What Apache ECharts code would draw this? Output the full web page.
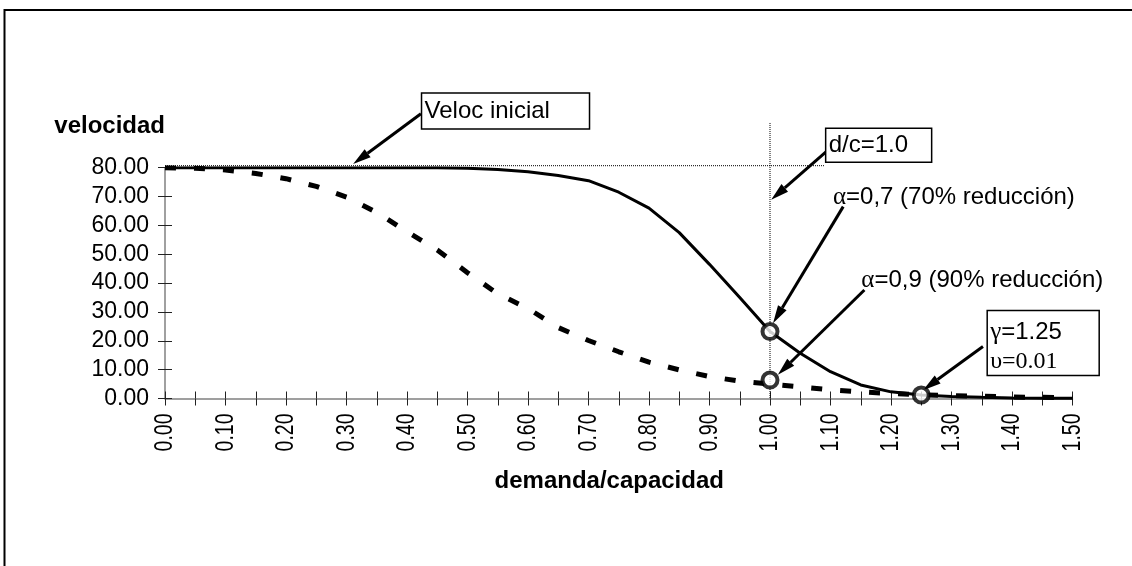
<!DOCTYPE html>
<html>
<head>
<meta charset="utf-8">
<script src="https://cdn.jsdelivr.net/npm/echarts@6/dist/echarts.min.js"></script>
<style>
  html, body { margin: 0; padding: 0; background: #fff; }
  #chart { width: 1132px; height: 566px; }
</style>
</head>
<body>
<div id="chart"></div>
<script>
// demand / capacity ratio (x) and speed for the two reduction factors
const ratio = [0.00,0.05,0.10,0.15,0.20,0.25,0.30,0.35,0.40,0.45,0.50,0.55,0.60,0.65,0.70,0.75,
               0.80,0.85,0.90,0.95,1.00,1.05,1.10,1.15,1.20,1.25,1.30,1.35,1.40,1.45,1.50];
const speedAlpha07 = [80,80,80,80,80,80,80,80,80,80,79.8,79.4,78.6,77.3,75.5,71.5,
                      66.0,57.5,46.5,35.0,23.2,15.7,9.3,4.7,2.3,1.2,0.7,0.4,0.2,0.1,0.05];
const speedAlpha09 = [80,79.8,79.2,78.0,76.2,73.5,69.8,64.5,57.8,51.5,43.6,36.3,31.2,24.6,20.1,16.2,
                      12.6,9.9,7.6,6.0,5.0,4.0,3.0,2.3,1.7,1.3,1.0,0.8,0.5,0.4,0.3];

// tick labels of the ratio axis
const xTickLabels = ['0.00','0.10','0.20','0.30','0.40','0.50','0.60','0.70',
                     '0.80','0.90','1.00','1.10','1.20','1.30','1.40','1.50'];

// highlighted points: d/c = 1 on both curves, and gamma = 1.25
const keyPoints = [[1.00, 23.2], [1.00, 6.4], [1.25, 1.2]];

// reference guides: initial speed and d/c = 1
const initialSpeedGuide = [[0, 80.7], [1.09, 80.7]];
const capacityGuide = [[1.00, 95.5], [1.00, 0]];

// annotation arrows: [from, to] in axis units
const arrowSegments = [
  [[0.423, 98.7], [0.311, 81.3]],
  [[1.093, 85.6], [1.002, 68.9]],
  [[1.121, 66.5], [1.005, 26.1]],
  [[1.156, 37.6], [1.013, 8.2]],
  [[1.352, 18.0], [1.253, 2.9]]
];

// annotation texts and their top-left anchors in axis units
const noteTexts = [
  'Veloc inicial',
  'd/c=1.0',
  '{g|α}=0,7 (70% reducción)',
  '{g|α}=0,9 (90% reducción)',
  '{g|γ}=1.25\n{s|υ=0.01}'
];
const noteAnchors = [[0.424, 105.9], [1.092, 93.7], [1.104, 74.7], [1.151, 45.8], [1.359, 30.5]];

const SANS = '"Liberation Sans", Arial, sans-serif';
const SERIF = '"Liberation Serif", "Times New Roman", serif';

// box sizes (px) for the framed notes; null = plain text
const noteBoxes = [[168, 36], [106, 34], null, null, [112, 65]];

const chart = echarts.init(document.getElementById('chart'), null, { renderer: 'canvas' });

const xBase = {
  type: 'value', min: 0, max: 1.5, interval: 0.1, position: 'bottom',
  splitLine: { show: false }, minorSplitLine: { show: false }
};
const yBase = {
  type: 'value', min: 0, max: 80, interval: 10, position: 'left',
  splitLine: { show: false }
};

const option = {
  backgroundColor: '#fff',
  animation: false,
  grid: { left: 165, right: 59.5, top: 167.7, bottom: 167.5, containLabel: false },
  graphic: [{
    // outer frame: left and top edges of the chart area
    type: 'polyline', z: -1, silent: true,
    shape: { points: [[4.5, 1000], [4.5, 10], [2000, 10]] },
    style: { fill: 'none', stroke: '#000', lineWidth: 2 }
  }],
  xAxis: [
    Object.assign({}, xBase, {
      axisLine: { show: true, onZero: false, lineStyle: { color: '#808080', width: 1.5 } },
      axisTick: { show: true, inside: false, length: 7, lineStyle: { color: '#222', width: 1 } },
      minorTick: { show: true, splitNumber: 2, length: 7, lineStyle: { color: '#222', width: 1 } },
      axisLabel: { show: false },
      name: 'demanda/capacidad', nameLocation: 'middle', nameGap: 71,
      nameTextStyle: {
        fontFamily: SANS, fontWeight: 'bold', fontSize: 24, color: '#000',
        padding: [0, 19, 0, 0]
      }
    }),
    Object.assign({}, xBase, {
      axisLine: { show: false, onZero: false },
      axisTick: { show: true, inside: true, length: 7, lineStyle: { color: '#222', width: 1 } },
      minorTick: { show: true, splitNumber: 2, length: 7, lineStyle: { color: '#222', width: 1 } },
      axisLabel: { show: false }
    })
  ],
  yAxis: [
    Object.assign({}, yBase, {
      axisLine: { show: true, onZero: false, lineStyle: { color: '#808080', width: 1.5 } },
      axisTick: { show: true, inside: false, length: 7, lineStyle: { color: '#222', width: 1 } },
      axisLabel: {
        margin: 16, color: '#000', fontFamily: SANS, fontSize: 23,
        formatter: v => v.toFixed(2)
      },
      name: 'velocidad', nameLocation: 'end', nameGap: 41,
      nameTextStyle: {
        fontFamily: SANS, fontWeight: 'bold', fontSize: 24, color: '#000',
        align: 'right', verticalAlign: 'middle'
      }
    }),
    Object.assign({}, yBase, {
      axisLine: { show: false, onZero: false },
      axisTick: { show: true, inside: true, length: 7, lineStyle: { color: '#222', width: 1 } },
      axisLabel: { show: false }
    })
  ],
  series: [
    {
      name: 'guía velocidad inicial', type: 'line', xAxisIndex: 0, yAxisIndex: 0,
      data: initialSpeedGuide, symbol: 'none', clip: false, silent: true, z: 3,
      lineStyle: { color: '#000', width: 1, type: [1, 1] }
    },
    {
      name: 'guía d/c=1', type: 'line', xAxisIndex: 0, yAxisIndex: 0,
      data: capacityGuide, symbol: 'none', clip: false, silent: true, z: 3,
      lineStyle: { color: '#000', width: 1, type: [1, 1] }
    },
    {
      name: 'α=0,7', type: 'line', xAxisIndex: 0, yAxisIndex: 0,
      data: ratio.map((x, i) => [x, speedAlpha07[i]]),
      symbol: 'none', z: 4,
      lineStyle: { color: '#000', width: 3 }
    },
    {
      name: 'α=0,9', type: 'line', xAxisIndex: 0, yAxisIndex: 0,
      data: ratio.map((x, i) => [x, speedAlpha09[i]]),
      symbol: 'none', z: 4,
      lineStyle: { color: '#000', width: 5, type: [11, 18], cap: 'butt' }
    },
    {
      // condensed, vertical tick labels of the ratio axis
      name: 'etiquetas eje x', type: 'custom', coordinateSystem: 'cartesian2d',
      xAxisIndex: 0, yAxisIndex: 0, clip: false, silent: true, z: 5,
      data: xTickLabels.map(s => [parseFloat(s), 0]),
      renderItem(params, api) {
        const p = api.coord([api.value(0), 0]);
        return {
          type: 'text',
          x: p[0], y: p[1] + 15,
          rotation: Math.PI / 2,
          scaleX: 0.75,
          style: {
            text: xTickLabels[params.dataIndex], fill: '#000',
            fontFamily: SANS, fontSize: 26,
            align: 'right', verticalAlign: 'middle'
          }
        };
      }
    },
    {
      name: 'flechas', type: 'custom', coordinateSystem: 'cartesian2d',
      xAxisIndex: 0, yAxisIndex: 0, clip: false, silent: true, z: 6,
      data: arrowSegments.map(s => [s[0][0], s[0][1], s[1][0], s[1][1]]),
      renderItem(params, api) {
        const p0 = api.coord([api.value(0), api.value(1)]);
        const p1 = api.coord([api.value(2), api.value(3)]);
        const ang = Math.atan2(p1[1] - p0[1], p1[0] - p0[0]);
        const L = 18, W = 5;
        const bx = p1[0] - L * Math.cos(ang), by = p1[1] - L * Math.sin(ang);
        const nx = -Math.sin(ang) * W, ny = Math.cos(ang) * W;
        return {
          type: 'group',
          children: [
            { type: 'line', shape: { x1: p0[0], y1: p0[1], x2: bx, y2: by },
              style: { stroke: '#000', lineWidth: 3 } },
            { type: 'polygon', shape: { points: [[p1[0], p1[1]], [bx + nx, by + ny], [bx - nx, by - ny]] },
              style: { fill: '#000' } }
          ]
        };
      }
    },
    {
      name: 'puntos', type: 'scatter', xAxisIndex: 0, yAxisIndex: 0,
      data: keyPoints, symbol: 'circle', symbolSize: 15, clip: false, silent: true, z: 7,
      itemStyle: { color: '#fff', borderColor: '#000', borderWidth: 4 }
    },
    {
      name: 'notas', type: 'custom', coordinateSystem: 'cartesian2d',
      xAxisIndex: 0, yAxisIndex: 0, clip: false, silent: true, z: 8,
      data: noteAnchors,
      renderItem(params, api) {
        const i = params.dataIndex;
        const p = api.coord([api.value(0), api.value(1)]);
        const box = noteBoxes[i];
        const rich = {
          g: { fontFamily: SERIF, fontSize: 25, fill: '#000', lineHeight: 29 },
          s: { fontFamily: SERIF, fontSize: 24, fill: '#000', lineHeight: 29 }
        };
        const textEl = {
          type: 'text',
          x: p[0] + (box ? 3 : 0),
          y: box ? p[1] + box[1] / 2 + (i === 4 ? 4 : 0) : p[1],
          style: {
            text: noteTexts[i], fill: '#000', fontFamily: SANS, fontSize: 24,
            lineHeight: i === 4 ? 29 : 27,
            align: 'left', verticalAlign: box ? 'middle' : 'top', rich: rich
          }
        };
        const children = [];
        if (box) {
          children.push({
            type: 'rect', shape: { x: p[0], y: p[1], width: box[0], height: box[1] },
            style: { fill: '#fff', stroke: '#000', lineWidth: 1.5 }
          });
        }
        children.push(textEl);
        return { type: 'group', children: children };
      }
    }
  ]
};

chart.setOption(option);
</script>
</body>
</html>
